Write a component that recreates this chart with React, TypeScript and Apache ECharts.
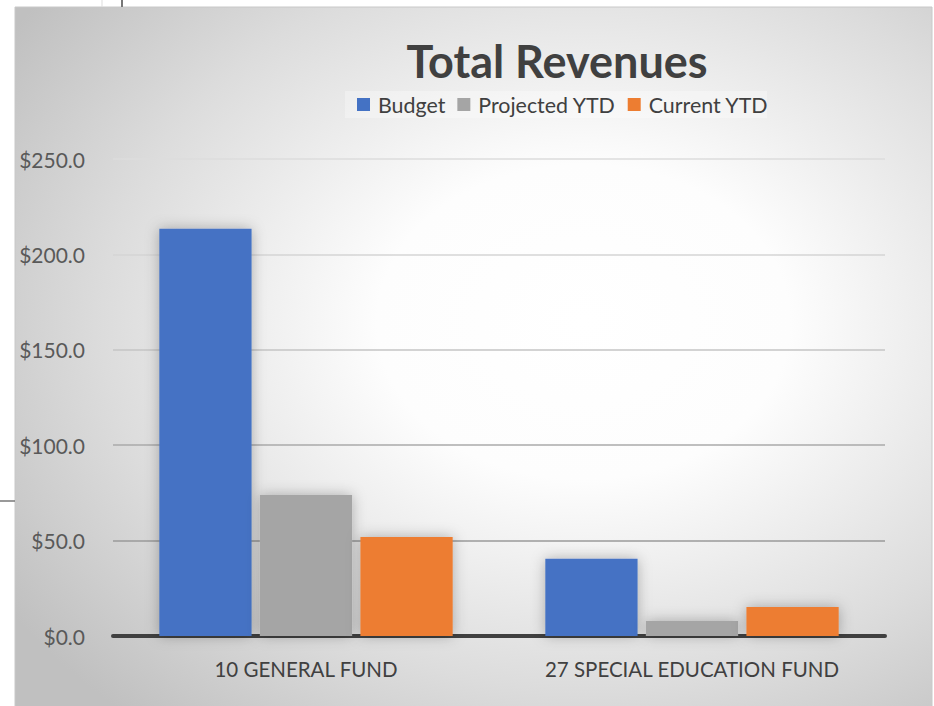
import React, { useEffect, useRef } from "react";
import * as echarts from "echarts";

const categories = ["10 GENERAL FUND", "27 SPECIAL EDUCATION FUND"];
const budget = [213.5, 40.5];
const projectedYTD = [73.9, 7.9];
const currentYTD = [51.9, 15.2];
const seriesNames = ["Budget", "Projected YTD", "Current YTD"];
const seriesColors = ["#4472C4", "#A5A5A5", "#ED7D31"];
const gridColors = ["#999999", "#9a9a9a", "#aaaaaa", "#c4c4c4", "#d4d4d4", "#dcdcdc"];

export default function App() {
  const ref = useRef<HTMLDivElement>(null);
  useEffect(() => {
    if (!ref.current) return;
    const chart = echarts.init(ref.current, null, { renderer: "svg" });
    const font = "Lato, 'Open Sans', sans-serif";
    const barStyle = (c: string) => ({
      color: c,
      shadowBlur: 14,
      shadowColor: "rgba(0,0,0,0.28)",
      shadowOffsetX: 0,
      shadowOffsetY: 0,
    });
    const data = [budget, projectedYTD, currentYTD];
    chart.setOption({
      animation: false,
      graphic: [
        {
          type: "rect",
          z: -10,
          silent: true,
          shape: { x: 15, y: 7, width: 917, height: 700 },
          style: {
            fill: new echarts.graphic.RadialGradient(0.62, 0.45, 0.75, [
              { offset: 0, color: "#ffffff" },
              { offset: 0.3, color: "#fdfdfd" },
              { offset: 0.7, color: "#dcdcdc" },
              { offset: 1, color: "#c0c0c0" },
            ]),
            stroke: "#c8c8c8",
            lineWidth: 1,
          },
        },
        {
          type: "line",
          silent: true,
          shape: { x1: 102, y1: 0, x2: 102, y2: 7 },
          style: { stroke: "#dddddd", lineWidth: 1 },
        },
        {
          type: "line",
          silent: true,
          shape: { x1: 122, y1: 0, x2: 122, y2: 7 },
          style: { stroke: "#777777", lineWidth: 2 },
        },
        {
          type: "line",
          silent: true,
          shape: { x1: 0, y1: 501, x2: 15, y2: 501 },
          style: { stroke: "#777777", lineWidth: 1.5 },
        },
        {
          type: "rect",
          silent: true,
          z: -5,
          shape: { x: 345, y: 91, width: 422, height: 27 },
          style: { fill: "rgba(255,255,255,0.3)" },
        },
      ],
      title: {
        text: "Total Revenues",
        left: 552,
        top: 33,
        textAlign: "center",
        textStyle: {
          fontFamily: font,
          fontSize: 45,
          fontWeight: "bold",
          color: "#404040",
        },
      },
      legend: {
        top: 89,
        left: 352,
        itemWidth: 13,
        itemHeight: 13,
        itemGap: 12,
        icon: "rect",
        textStyle: { fontFamily: font, fontSize: 21.4, color: "#404040", padding: [0, 0, 0, 3] },
        data: seriesNames,
      },
      grid: { left: 113, right: 49, top: 159, bottom: 70 },
      xAxis: {
        type: "category",
        data: categories,
        axisLine: { lineStyle: { color: "#404040", width: 4 } },
        axisTick: { show: false },
        axisLabel: {
          fontFamily: font,
          fontSize: 20.5,
          color: "#404040",
          margin: 22,
        },
      },
      yAxis: {
        type: "value",
        min: 0,
        max: 250,
        interval: 50,
        axisLine: { show: false },
        axisTick: { show: false },
        axisLabel: {
          fontFamily: font,
          fontSize: 21,
          color: "#595959",
          margin: 28,
          formatter: (v: number) => "$" + v.toFixed(1),
        },
        splitLine: { lineStyle: { color: gridColors, width: 1.5 } },
      },
      series: seriesNames.map((n, i) => ({
        name: n,
        type: "bar",
        data: data[i],
        barGap: "9%",
        barCategoryGap: "24%",
        itemStyle: barStyle(seriesColors[i]),
      })),
    });
    return () => chart.dispose();
  }, []);
  return (
    <div
      ref={ref}
      style={{ position: "fixed", left: 0, top: 0, width: 934, height: 706, background: "#ffffff" }}
    />
  );
}
